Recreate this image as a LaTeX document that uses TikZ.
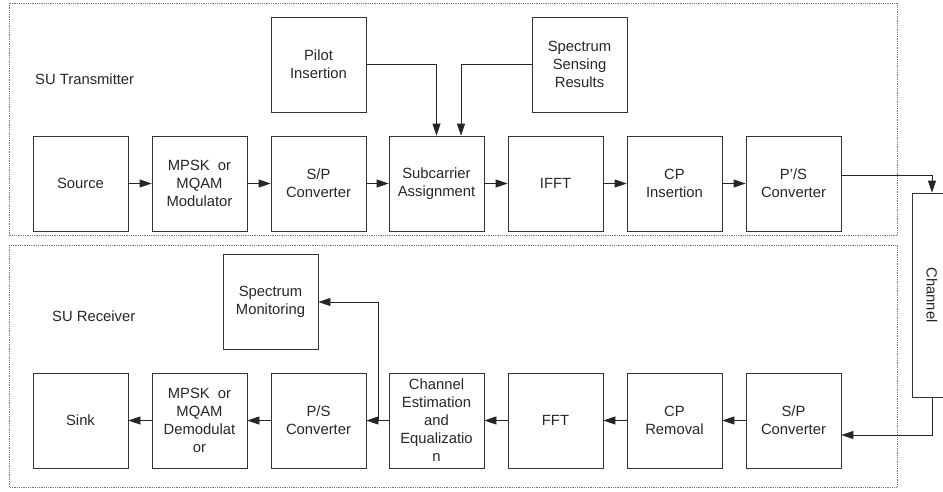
\documentclass[tikz,border=0pt]{standalone}
\usepackage{fontspec}
\setmainfont{Liberation Sans}
\usetikzlibrary{arrows.meta}
\begin{document}
\begin{tikzpicture}[x=1pt,y=-1pt,
  blk/.style={draw=black!80,line width=0.75pt,minimum width=95pt,minimum height=95pt,
    align=center,inner sep=1pt,font=\fontsize{14.8}{18}\selectfont,text=black!85},
  frame/.style={draw=black!55,line width=0.8pt,densely dotted},
  lbl/.style={anchor=west,font=\fontsize{14.8}{18}\selectfont,text=black!85,inner sep=0pt},
  flow/.style={draw=black!85,line width=0.75pt,-{Triangle[length=12pt,width=8pt]}},
  wire/.style={draw=black!85,line width=0.75pt}]
\useasboundingbox (0,0) rectangle (943,491);
\clip (0,0) rectangle (943,491);

% group frames
\draw[frame] (9,3) rectangle (897,235.5);
\draw[frame] (9,245) rectangle (897,487);
\node[lbl] (txlbl) at (35,79) {SU Transmitter};
\node[lbl] (rxlbl) at (52,316) {SU Receiver};

% transmitter chain
\node[blk] (src)  at (80.5,183.5)  {Source};
\node[blk] (mod)  at (199.5,183.5) {MPSK\ \ or\\MQAM\\Modulator};
\node[blk] (sptx) at (318.5,183.5) {S/P\\Converter};
\node[blk] (sub)  at (436.5,183.5) {Subcarrier\\Assignment};
\node[blk] (ifft) at (555.5,183.5) {IFFT};
\node[blk] (cpin) at (674.5,183.5) {CP\\Insertion};
\node[blk] (pstx) at (793.5,183.5) {P'/S\\Converter};
\node[blk] (pil)  at (318.5,64.5)  {Pilot\\Insertion};
\node[blk] (sen)  at (579.5,64.5)  {Spectrum\\Sensing\\Results};

% receiver chain
\node[blk] (sink) at (80.5,420.5)  {Sink};
\node[blk] (dem)  at (199.5,420.5) {MPSK\ \ or\\MQAM\\Demodulat\\or};
\node[blk] (psrx) at (318.5,420.5) {P/S\\Converter};
\node[blk] (est)  at (436.5,420.5) {Channel\\Estimation\\and\\Equalizatio\\n};
\node[blk] (fft)  at (555.5,420.5) {FFT};
\node[blk] (cprm) at (674.5,420.5) {CP\\Removal};
\node[blk] (sprx) at (793.5,420.5) {S/P\\Converter};
\node[blk] (mon)  at (270.5,302)   {Spectrum\\Monitoring};

% channel
\node[blk,minimum width=40pt,minimum height=204pt] (chan) at (932,295)
  {\rotatebox{-90}{Channel}};

% transmitter connections
\draw[flow] (src) -- (mod);
\draw[flow] (mod) -- (sptx);
\draw[flow] (sptx) -- (sub);
\draw[flow] (sub) -- (ifft);
\draw[flow] (ifft) -- (cpin);
\draw[flow] (cpin) -- (pstx);
\draw[flow] (pil.east) -| (sub.north);
\coordinate (subin) at ([xshift=24.5pt]sub.north);
\draw[flow] (sen.west) -| (subin);

% through the channel
\draw[flow] ([yshift=8.5pt]pstx.east) -| (chan.north);
\coordinate (rxin) at ([yshift=-14.5pt]sprx.east);
\draw[flow] (chan.south) |- (rxin);

% receiver connections
\draw[flow] (sprx) -- (cprm);
\draw[flow] (cprm) -- (fft);
\draw[flow] (fft) -- (est);
\draw[flow] (est) -- (psrx);
\draw[flow] (psrx) -- (dem);
\draw[flow] (dem) -- (sink);
\coordinate (tap) at ([xshift=-10pt]est.west);
\draw[flow] (tap) |- (mon.east);
\end{tikzpicture}
\end{document}
